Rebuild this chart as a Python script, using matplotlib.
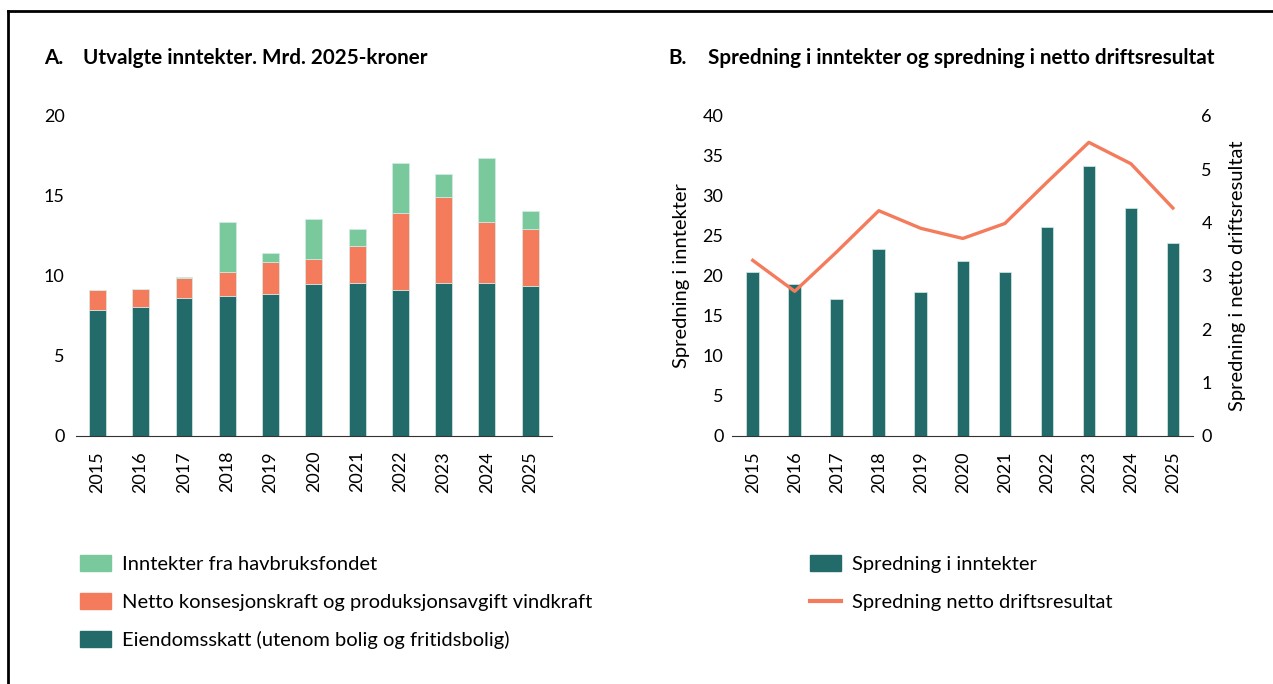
import numpy as np
import matplotlib.pyplot as plt
from matplotlib.patches import Patch
from matplotlib.lines import Line2D

plt.rcParams['font.family'] = ['Lato', 'DejaVu Sans']

# Data
years = ['2015', '2016', '2017', '2018', '2019', '2020', '2021', '2022', '2023', '2024', '2025']
eiendomsskatt = [7.86, 8.02, 8.63, 8.73, 8.88, 9.48, 9.56, 9.13, 9.56, 9.52, 9.38]
konsesjonskraft = [1.24, 1.13, 1.25, 1.52, 2.00, 1.56, 2.27, 4.79, 5.38, 3.86, 3.54]
havbruksfondet = [0.00, 0.00, 0.04, 3.08, 0.56, 2.48, 1.07, 3.12, 1.40, 3.95, 1.12]

spredning_inntekter = [20.5, 19.0, 17.15, 23.3, 18.0, 21.9, 20.5, 26.1, 33.7, 28.45, 24.1]
spredning_netto = [3.29, 2.71, 3.45, 4.22, 3.89, 3.70, 3.98, 4.75, 5.50, 5.10, 4.27]

dark = '#236b6a'
orange = '#f47b5c'
green = '#7ac99d'
edge = '#d5ece6'
tick_fs = 13
text_fs = 14.5
title_fs = 14.9

fig = plt.figure(figsize=(12.73, 6.84), dpi=100)

# frame lines top and left
fig.add_artist(Line2D([0.0066, 1.0], [0.984, 0.984], color='black', lw=2))
fig.add_artist(Line2D([0.0066, 0.0066], [0.0, 0.984], color='black', lw=2))

x = np.arange(len(years))

# --- Panel A ---
ax1 = fig.add_axes([0.0595, 0.363, 0.374, 0.468])
ax1.bar(x, eiendomsskatt, width=0.39, color=dark, edgecolor=edge, linewidth=0.5)
ax1.bar(x, konsesjonskraft, width=0.39, bottom=eiendomsskatt, color=orange,
        edgecolor=edge, linewidth=0.5)
bottom3 = np.array(eiendomsskatt) + np.array(konsesjonskraft)
ax1.bar(x, havbruksfondet, width=0.39, bottom=bottom3, color=green,
        edgecolor=edge, linewidth=0.5)
ax1.set_xlim(-0.5, 10.5)
ax1.set_ylim(0, 20)
ax1.set_yticks([0, 5, 10, 15, 20])
ax1.set_xticks(x)
ax1.set_xticklabels(years, rotation=90)
for s in ['top', 'right', 'left']:
    ax1.spines[s].set_visible(False)
ax1.spines['bottom'].set_color('#333333')
ax1.tick_params(axis='both', length=0, labelsize=tick_fs)
ax1.tick_params(axis='y', pad=8)
ax1.tick_params(axis='x', pad=11)

fig.text(0.0346, 0.915, 'A.', fontsize=title_fs, fontweight='bold', va='center')
fig.text(0.0652, 0.915, 'Utvalgte inntekter. Mrd. 2025-kroner', fontsize=title_fs,
         fontweight='bold', va='center')

handles1 = [Patch(color=green), Patch(color=orange), Patch(color=dark)]
labels1 = ['Inntekter fra havbruksfondet',
           'Netto konsesjonskraft og produksjonsavgift vindkraft',
           'Eiendomsskatt (utenom bolig og fritidsbolig)']
fig.legend(handles1, labels1, loc='upper left', bbox_to_anchor=(0.0628, 0.188),
           bbox_transform=fig.transFigure, frameon=False, fontsize=text_fs,
           handlelength=1.54, handleheight=0.8, handletextpad=0.53,
           labelspacing=1.0, borderaxespad=0, borderpad=0)

# --- Panel B ---
ax2 = fig.add_axes([0.5748, 0.3626, 0.3624, 0.4683])
ax2.bar(x, spredning_inntekter, width=0.3, color=dark, edgecolor=edge, linewidth=0.5)
ax2.set_xlim(-0.5, 10.48)
ax2.set_ylim(0, 40)
ax2.set_yticks(range(0, 41, 5))
ax2.set_xticks(x)
ax2.set_xticklabels(years, rotation=90)
ax2.set_ylabel('Spredning i inntekter', fontsize=text_fs, labelpad=9)
for s in ['top', 'right', 'left']:
    ax2.spines[s].set_visible(False)
ax2.spines['bottom'].set_color('#333333')
ax2.tick_params(axis='both', length=0, labelsize=tick_fs)
ax2.tick_params(axis='y', pad=6)
ax2.tick_params(axis='x', pad=11)

ax3 = ax2.twinx()
ax3.plot(x, spredning_netto, color=orange, lw=2.4)
ax3.set_ylim(0, 6)
ax3.set_yticks(range(0, 7))
ax3.set_ylabel('Spredning i netto driftsresultat', fontsize=text_fs, labelpad=12)
for s in ['top', 'right', 'left', 'bottom']:
    ax3.spines[s].set_visible(False)
ax3.tick_params(axis='y', length=0, labelsize=tick_fs, pad=6)

fig.text(0.5248, 0.915, 'B.', fontsize=title_fs, fontweight='bold', va='center')
fig.text(0.5562, 0.915, 'Spredning i inntekter og spredning i netto driftsresultat',
         fontsize=title_fs, fontweight='bold', va='center')

handles2 = [Patch(color=dark), Line2D([0], [0], color=orange, lw=3)]
labels2 = ['Spredning i inntekter', 'Spredning netto driftsresultat']
fig.legend(handles2, labels2, loc='upper left', bbox_to_anchor=(0.6363, 0.188),
           bbox_transform=fig.transFigure, frameon=False, fontsize=text_fs,
           handlelength=1.54, handleheight=0.8, handletextpad=0.53,
           labelspacing=1.0, borderaxespad=0, borderpad=0)

fig.savefig('out.png', dpi=100)
